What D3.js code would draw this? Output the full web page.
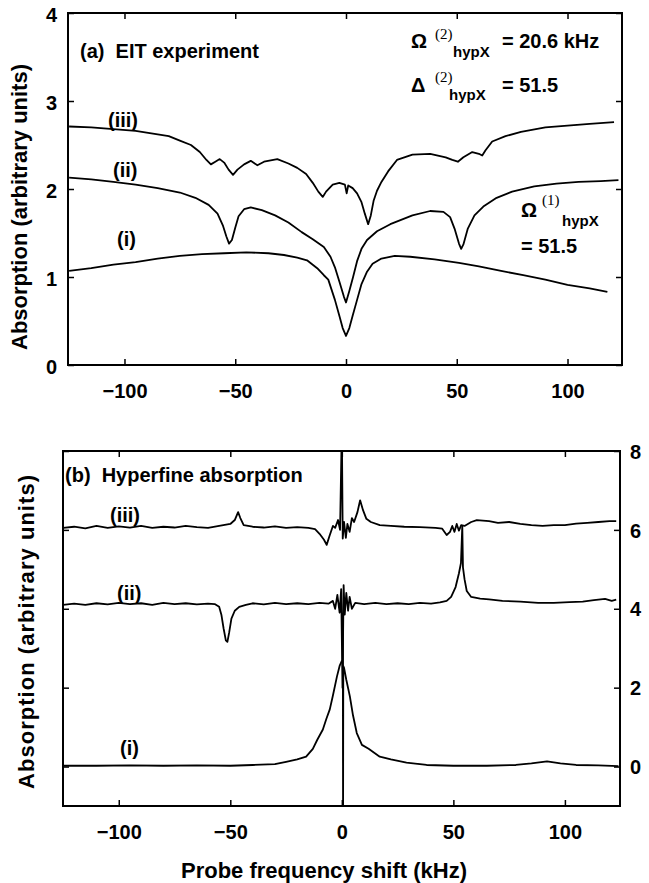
<!DOCTYPE html>
<html>
<head>
<meta charset="utf-8">
<script src="https://cdn.jsdelivr.net/npm/d3@7"></script>
<style>
  body { margin: 0; background: white; }
  text { font-family: "Liberation Sans", Arial, sans-serif; font-weight: bold; fill: black; }
  .serif { font-family: "Liberation Serif", "Times New Roman", serif; font-weight: normal; }
</style>
</head>
<body>
<div class="svg-wrap"></div>
<script>
// frequency ticks (kHz)
let freqTicks = [-100, -50, 0, 50, 100];
let eitTicks = [0, 1, 2, 3, 4];
let hypTicks = [0, 2, 4, 6, 8];

// (a) EIT experiment traces: [probe shift kHz, absorption]
let eitI = [[-125,1.07],[-115,1.10],[-105,1.14],[-95,1.17],[-85,1.21],[-75,1.24],[-65,1.26],[-55,1.27],[-45,1.28],[-35,1.27],
  [-28,1.25],[-22,1.22],[-17.6,1.19],[-13,1.10],[-10,1.02],[-8,0.97],[-5,0.74],[-3,0.56],[-1.5,0.42],[0,0.33],[1.5,0.42],
  [3,0.56],[5,0.74],[7,0.92],[9.5,1.06],[12,1.15],[16,1.21],[22,1.24],[29,1.23],[40,1.20],[51,1.16],[60,1.12],[70,1.07],
  [80,1.02],[90,0.97],[100,0.91],[110,0.87],[118,0.83]];
let eitII = [[-125,2.13],[-115,2.11],[-105,2.08],[-95,2.05],[-85,2.01],[-75,1.96],[-68,1.90],[-62,1.82],[-58,1.72],[-55.5,1.58],
  [-54,1.46],[-52.8,1.38],[-51.5,1.42],[-50,1.56],[-48.5,1.69],[-46,1.77],[-43,1.79],[-38,1.76],[-32,1.70],[-26,1.62],[-20,1.51],
  [-15,1.43],[-10,1.34],[-7,1.23],[-5,1.11],[-3,0.95],[-1,0.78],[0,0.71],[1.5,0.84],[3.2,1.00],[5,1.18],[7,1.32],[9.5,1.42],
  [14,1.52],[20,1.60],[30,1.70],[38,1.75],[44,1.74],[47,1.68],[49,1.55],[51,1.38],[52,1.32],[53,1.37],[55,1.55],[58,1.70],
  [62,1.80],[68,1.90],[75,1.97],[85,2.03],[95,2.06],[105,2.08],[115,2.09],[123,2.10]];
let eitIII = [[-125,2.71],[-115,2.70],[-105,2.68],[-95,2.66],[-85,2.62],[-80,2.60],[-75,2.55],[-70,2.50],[-66,2.42],[-63,2.33],
  [-61,2.28],[-59,2.31],[-57,2.34],[-55,2.30],[-53,2.22],[-51,2.16],[-49,2.22],[-46,2.28],[-43,2.32],[-40,2.27],[-37,2.31],
  [-31,2.34],[-26,2.29],[-22,2.24],[-18,2.17],[-15,2.07],[-12.5,1.97],[-10.5,1.91],[-9,1.97],[-6,2.05],[-3,2.07],[-0.5,2.05],
  [0.3,1.95],[1,2.04],[3,2.01],[5,1.95],[7,1.85],[8.5,1.72],[10,1.60],[11.2,1.70],[12.5,1.87],[14,1.98],[16,2.08],[19,2.20],
  [23,2.33],[30,2.39],[38,2.40],[45,2.36],[48,2.33],[50.5,2.31],[53,2.36],[57,2.42],[60,2.40],[61.5,2.38],[63,2.44],[66,2.54],
  [72,2.60],[79,2.65],[90,2.70],[100,2.72],[110,2.74],[121,2.76]];

// (b) Hyperfine absorption traces
let hypI = [[-125,0.02],[-110,0.02],[-95,0.03],[-80,0.02],[-65,0.03],[-50,0.02],[-40,0.04],[-30,0.06],[-25,0.12],[-20,0.18],
  [-16,0.25],[-13,0.45],[-11,0.68],[-8.5,0.94],[-7,1.20],[-5.4,1.45],[-4,1.80],[-2.2,2.28],[-1,2.55],[0,2.68],[0.35,2.66],
  [0.45,3.6],[0.55,-1.5],[0.65,2.55],[1,2.50],[2,2.20],[3.6,1.78],[5,1.30],[6.7,0.85],[9,0.55],[12,0.45],[17,0.25],[22,0.18],
  [29,0.10],[38,0.04],[50,0.02],[65,0.02],[78,0.04],[85,0.08],[92,0.13],[98,0.08],[105,0.04],[115,0.03],[124,0.01]];
let hypII = [[-125,4.10],[-120,4.13],[-115,4.10],[-110,4.14],[-105,4.11],[-100,4.15],[-95,4.12],[-90,4.14],[-85,4.10],[-80,4.15],
  [-75,4.12],[-70,4.14],[-65,4.11],[-60,4.13],[-57,4.12],[-55,4.05],[-54,3.85],[-53,3.50],[-52,3.20],[-51.3,3.16],[-50.5,3.40],
  [-49.5,3.75],[-48,3.95],[-46,4.05],[-43,4.10],[-40,4.14],[-35,4.11],[-30,4.15],[-25,4.12],[-20,4.14],[-15,4.12],[-10,4.15],
  [-6,4.13],[-4,4.20],[-3,4.00],[-2,4.35],[-1,3.90],[-0.3,4.50],[0.3,2.00],[0.8,4.60],[1.3,3.85],[2,4.40],[2.8,3.95],[3.5,4.30],
  [4.5,4.00],[6,4.15],[10,4.12],[15,4.15],[20,4.12],[25,4.14],[30,4.12],[35,4.15],[40,4.13],[44,4.16],[47,4.20],[49,4.30],
  [51,4.55],[52.5,4.90],[53.4,5.16],[54,6.10],[54.3,5.05],[55,4.75],[56,4.45],[58,4.30],[62,4.26],[66,4.24],[72,4.20],[80,4.18],
  [88,4.15],[95,4.15],[102,4.17],[108,4.18],[113,4.22],[118,4.25],[121,4.20],[123,4.23]];
let hypIII = [[-125,6.05],[-120,6.08],[-115,6.04],[-110,6.10],[-105,6.05],[-100,6.09],[-95,6.06],[-90,6.10],[-85,6.05],[-80,6.08],
  [-75,6.06],[-70,6.10],[-65,6.07],[-60,6.05],[-55,6.10],[-50,6.15],[-48,6.25],[-46.5,6.45],[-45.5,6.30],[-44,6.12],[-40,6.08],
  [-35,6.06],[-30,6.09],[-25,6.05],[-20,6.07],[-15,6.05],[-12,6.02],[-10,5.90],[-8,5.75],[-6.8,5.62],[-5.5,5.85],[-4,6.10],
  [-3,6.05],[-1.7,6.25],[-0.8,6.00],[0,8.60],[0.4,5.78],[1,6.20],[1.8,5.80],[2.5,6.15],[3.5,5.95],[4.5,6.30],[5.5,6.20],[7,6.45],
  [8.2,6.75],[9.5,6.50],[11,6.28],[13,6.20],[17,6.12],[22,6.10],[28,6.08],[35,6.07],[42,6.05],[45,6.03],[47,5.87],[48.5,5.95],
  [49.5,6.10],[50.5,5.95],[51.5,6.15],[52.5,5.98],[53.5,6.12],[55,6.10],[58,6.20],[60.5,6.25],[66,6.22],[70,6.18],[75,6.20],
  [80,6.15],[85,6.12],[90,6.10],[95,6.12],[100,6.12],[105,6.16],[110,6.18],[115,6.20],[120,6.22],[123,6.22]];

let svg = d3.select(".svg-wrap")
  .append("svg")
  .attr("width", 649)
  .attr("height", 883)
  .style("background-color", "white");

// panel geometry
let xA = d3.scaleLinear().domain([-125.5, 124.6]).range([68, 622]);
let yA = d3.scaleLinear().domain([0, 4]).range([365, 13]);
let xB = d3.scaleLinear().domain([-125, 124.7]).range([63, 620]);
let yB = d3.scaleLinear().domain([-1, 8]).range([806, 451]);

function drawPanel(id, sx, sy, yTicks, series, leftLabels) {
  let [x0, x1] = sx.range();
  let [y1, y0] = sy.range();
  let g = svg.append("g").attr("id", id);

  g.append("clipPath").attr("id", "clip-" + id)
    .append("rect").attr("x", x0).attr("y", y0).attr("width", x1 - x0).attr("height", y1 - y0);

  let line = d3.line().x(d => sx(d[0])).y(d => sy(d[1]));
  g.append("g").attr("clip-path", "url(#clip-" + id + ")")
    .selectAll("path")
    .data(series)
    .enter()
    .append("path")
    .attr("d", line)
    .attr("fill", "none")
    .attr("stroke", "black")
    .attr("stroke-width", 1.8)
    .attr("stroke-linejoin", "round");

  g.append("g").attr("transform", `translate(0,${y1})`)
    .call(d3.axisBottom(sx).tickValues(freqTicks).tickSize(-6).tickPadding(19));
  g.append("g").attr("transform", `translate(0,${y0})`)
    .call(d3.axisTop(sx).tickValues(freqTicks).tickSize(-6).tickFormat(""));
  let left = g.append("g").attr("transform", `translate(${x0},0)`)
    .call(d3.axisLeft(sy).tickValues(yTicks).tickSize(-6).tickPadding(11).tickFormat(leftLabels ? d3.format("d") : ""));
  let right = g.append("g").attr("transform", `translate(${x1},0)`)
    .call(d3.axisRight(sy).tickValues(yTicks).tickSize(-6).tickPadding(10).tickFormat(leftLabels ? "" : d3.format("d")));

  g.selectAll(".domain").remove();
  g.selectAll(".tick line").attr("stroke", "black").attr("stroke-width", 1.5);
  g.selectAll(".tick text")
    .style("font-family", '"Liberation Sans", Arial, sans-serif')
    .style("font-weight", "bold")
    .style("font-size", "20px")
    .attr("fill", "black");
  left.selectAll(".tick text").attr("dy", "0.42em");
  right.selectAll(".tick text").attr("dy", "0.36em");

  g.append("rect")
    .attr("x", x0).attr("y", y0)
    .attr("width", x1 - x0).attr("height", y1 - y0)
    .attr("fill", "none").attr("stroke", "black").attr("stroke-width", 2);
  return g;
}

drawPanel("eit", xA, yA, eitTicks, [eitI, eitII, eitIII], true);
drawPanel("hyp", xB, yB, hypTicks, [hypI, hypII, hypIII], false);

function label(x, y, txt, size, cls) {
  return svg.append("text").attr("x", x).attr("y", y)
    .attr("class", cls || null)
    .style("font-size", size + "px").text(txt);
}

// panel (a) annotations
label(80, 58, "(a)\u00A0\u00A0EIT experiment", 20);
label(108, 127, "(iii)", 20);
label(113, 177, "(ii)", 20);
label(117, 246, "(i)", 20);

label(411, 48, "\u03A9", 20);
label(435, 39, "(2)", 15, "serif");
label(453, 57, "hypX", 15);
label(502, 48, "= 20.6 kHz", 20);

label(411, 92, "\u0394", 20);
label(435, 82, "(2)", 15, "serif");
label(449, 100, "hypX", 15);
label(502, 92, "= 51.5", 20);

label(521, 217, "\u03A9", 20);
label(542, 205, "(1)", 15, "serif");
label(562, 226, "hypX", 15);
label(521, 253, "= 51.5", 20);

// panel (b) annotations
label(65, 482, "(b)\u00A0\u00A0Hyperfine absorption", 20);
label(110, 522, "(iii)", 20);
label(117, 600, "(ii)", 20);
label(120, 755, "(i)", 20);

// axis titles
svg.append("text")
  .attr("transform", "translate(27,207) rotate(-90)")
  .attr("text-anchor", "middle")
  .style("font-size", "22px")
  .text("Absorption (arbitrary units)");
svg.append("text")
  .attr("transform", "translate(34,632) rotate(-90)")
  .attr("text-anchor", "middle")
  .attr("textLength", 314)
  .attr("lengthAdjust", "spacing")
  .style("font-size", "22px")
  .text("Absorption (arbitrary units)");
svg.append("text")
  .attr("x", 324).attr("y", 878)
  .attr("text-anchor", "middle")
  .style("font-size", "22px")
  .text("Probe frequency shift (kHz)");
</script>
</body>
</html>
